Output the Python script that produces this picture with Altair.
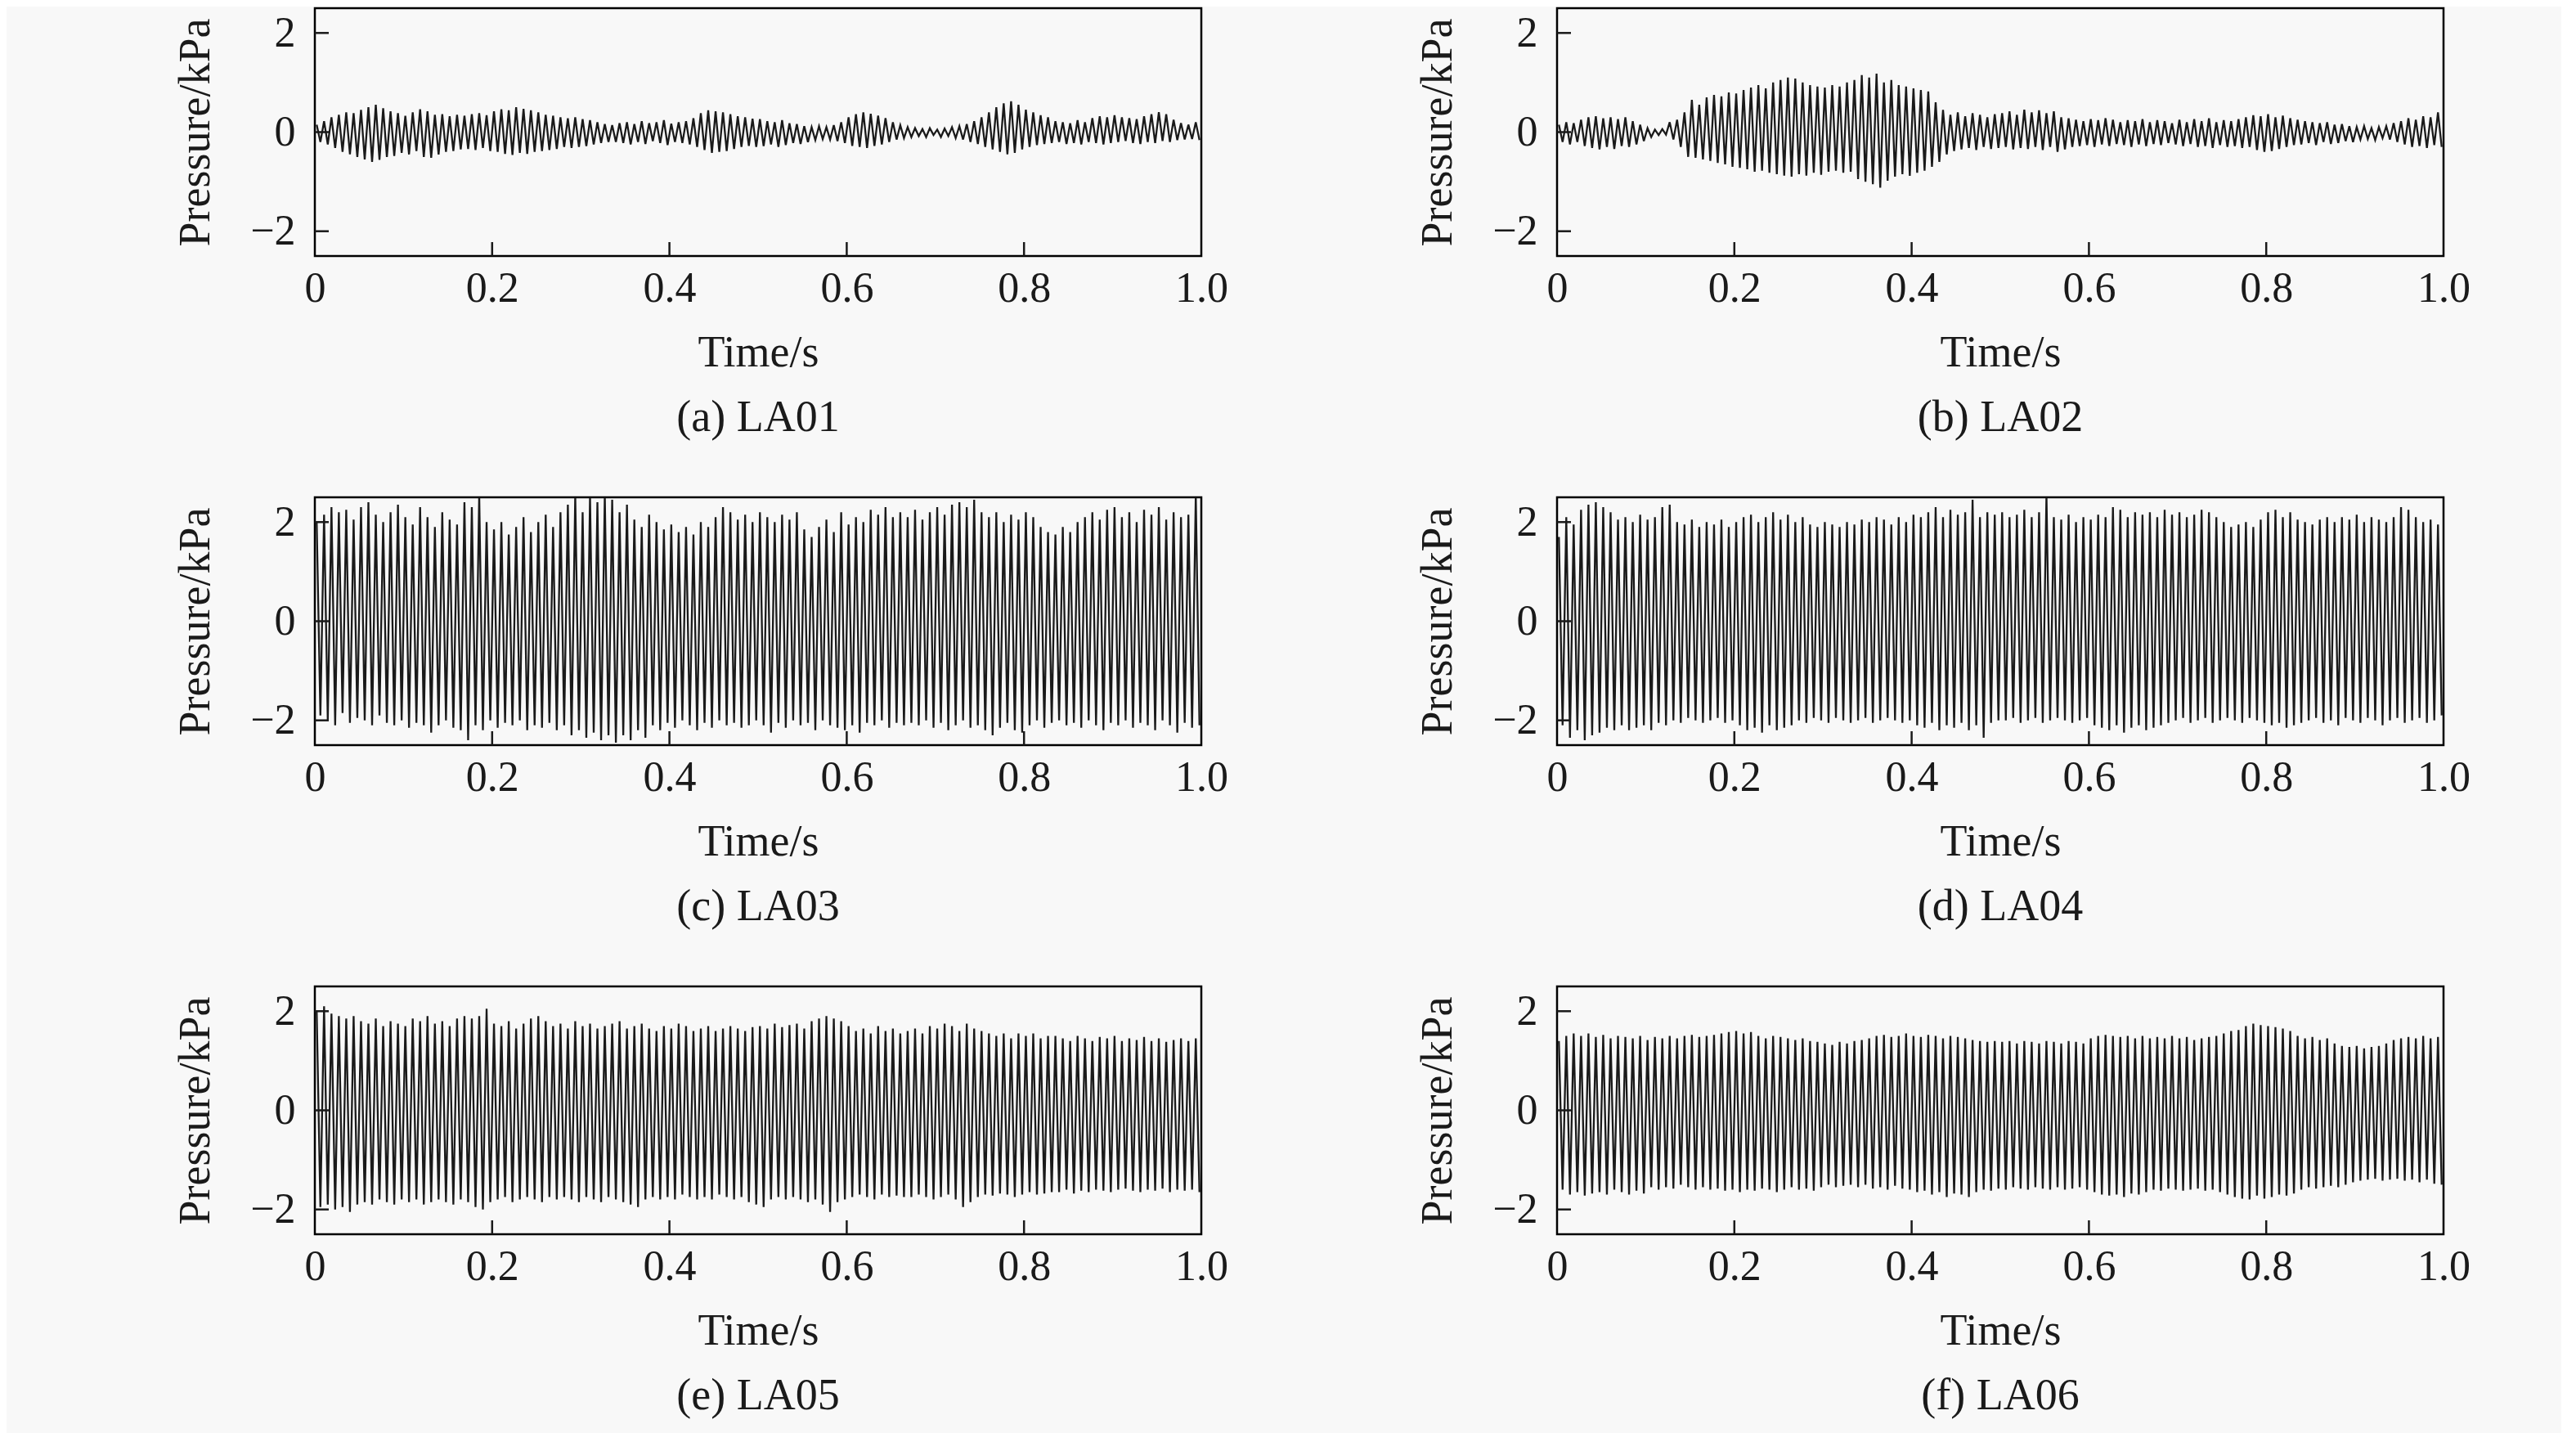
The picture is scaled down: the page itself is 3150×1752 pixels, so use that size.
import pandas as pd
import altair as alt

# pressure records, one value per half cycle (upper and lower peaks), 120 cycles in 1 s
time_ticks = [0, 0.2, 0.4, 0.6, 0.8, 1.0]
pressure_ticks = [-2, 0, 2]
captions = ["(a) LA01", "(b) LA02", "(c) LA03", "(d) LA04", "(e) LA05", "(f) LA06"]

la01_hi = [0.15, 0.22, 0.3, 0.35, 0.4, 0.38, 0.45, 0.5, 0.55, 0.48, 0.42, 0.38, 0.33, 0.4, 0.46, 0.42, 0.35, 0.36, 0.32, 0.35,
           0.33, 0.36, 0.38, 0.34, 0.42, 0.46, 0.44, 0.5, 0.47, 0.44, 0.4, 0.35, 0.33, 0.3, 0.28, 0.3, 0.26, 0.24, 0.2, 0.16,
           0.14, 0.18, 0.2, 0.16, 0.22, 0.18, 0.2, 0.24, 0.17, 0.2, 0.22, 0.28, 0.38, 0.44, 0.42, 0.4, 0.36, 0.32, 0.3, 0.27,
           0.26, 0.22, 0.2, 0.24, 0.18, 0.16, 0.12, 0.1, 0.12, 0.1, 0.14, 0.2, 0.3, 0.36, 0.4, 0.37, 0.33, 0.28, 0.2, 0.14,
           0.1, 0.08, 0.06, 0.08, 0.05, 0.07, 0.1, 0.12, 0.16, 0.22, 0.3, 0.4, 0.5, 0.58, 0.62, 0.55, 0.45, 0.4, 0.34, 0.3,
           0.22, 0.2, 0.18, 0.24, 0.2, 0.28, 0.32, 0.3, 0.34, 0.3, 0.28, 0.26, 0.32, 0.36, 0.4, 0.36, 0.25, 0.18, 0.15, 0.2]
la01_lo = [-0.2, -0.25, -0.32, -0.4, -0.45, -0.5, -0.55, -0.6, -0.56, -0.5, -0.48, -0.42, -0.45, -0.38, -0.5, -0.52, -0.45, -0.4, -0.38, -0.35,
           -0.34, -0.36, -0.32, -0.38, -0.4, -0.44, -0.46, -0.42, -0.44, -0.4, -0.38, -0.36, -0.34, -0.3, -0.32, -0.3, -0.28, -0.25, -0.22, -0.2,
           -0.2, -0.22, -0.25, -0.2, -0.24, -0.18, -0.22, -0.26, -0.2, -0.22, -0.25, -0.3, -0.36, -0.42, -0.4, -0.38, -0.34, -0.3, -0.28, -0.3,
           -0.28, -0.25, -0.3, -0.26, -0.22, -0.24, -0.2, -0.16, -0.14, -0.15, -0.18, -0.22, -0.28, -0.3, -0.32, -0.28, -0.25, -0.2, -0.15, -0.12,
           -0.1, -0.08, -0.1, -0.06, -0.1, -0.08, -0.12, -0.15, -0.2, -0.24, -0.3, -0.35, -0.4, -0.45, -0.42, -0.35, -0.3, -0.26, -0.24, -0.22,
           -0.2, -0.24, -0.22, -0.25, -0.2, -0.22, -0.25, -0.22, -0.2, -0.18, -0.22, -0.24, -0.2, -0.22, -0.18, -0.2, -0.16, -0.15, -0.14, -0.16]

la02_hi = [0.15, 0.2, 0.18, 0.25, 0.3, 0.32, 0.28, 0.3, 0.26, 0.3, 0.22, 0.15, 0.08, 0.05, 0.06, 0.2, 0.25, 0.4, 0.65, 0.55,
           0.7, 0.75, 0.72, 0.8, 0.78, 0.85, 0.9, 0.95, 0.88, 1.0, 1.05, 1.1, 1.08, 1.0, 0.95, 0.92, 0.9, 0.95, 0.92, 1.0,
           1.05, 1.15, 1.1, 1.18, 1.0, 1.05, 0.95, 0.92, 0.88, 0.85, 0.82, 0.6, 0.45, 0.35, 0.4, 0.32, 0.38, 0.35, 0.3, 0.36,
           0.38, 0.42, 0.35, 0.45, 0.4, 0.44, 0.38, 0.42, 0.3, 0.28, 0.25, 0.22, 0.26, 0.24, 0.28, 0.25, 0.2, 0.24, 0.22, 0.26,
           0.2, 0.24, 0.22, 0.18, 0.25, 0.2, 0.26, 0.22, 0.28, 0.2, 0.24, 0.22, 0.26, 0.3, 0.34, 0.32, 0.36, 0.3, 0.33, 0.28,
           0.25, 0.22, 0.2, 0.18, 0.2, 0.15, 0.16, 0.12, 0.1, 0.12, 0.08, 0.1, 0.12, 0.18, 0.22, 0.28, 0.25, 0.32, 0.3, 0.4]
la02_lo = [-0.2, -0.25, -0.2, -0.28, -0.32, -0.35, -0.3, -0.34, -0.28, -0.3, -0.25, -0.18, -0.1, -0.06, -0.05, -0.15, -0.3, -0.5, -0.52, -0.55,
           -0.58, -0.62, -0.65, -0.7, -0.72, -0.75, -0.8, -0.78, -0.82, -0.85, -0.88, -0.9, -0.85, -0.88, -0.82, -0.86, -0.8, -0.78, -0.82, -0.8,
           -0.95, -1.0, -1.05, -1.12, -0.98, -0.9, -0.85, -0.88, -0.82, -0.78, -0.7, -0.6, -0.45, -0.38, -0.35, -0.32, -0.36, -0.3, -0.34, -0.32,
           -0.3, -0.35, -0.32, -0.34, -0.3, -0.36, -0.3, -0.4, -0.35, -0.3, -0.28, -0.26, -0.3, -0.25, -0.28, -0.24, -0.26, -0.3, -0.25, -0.28,
           -0.24, -0.26, -0.22, -0.25, -0.28, -0.24, -0.3, -0.28, -0.32, -0.26, -0.3, -0.28, -0.32, -0.3, -0.36, -0.4, -0.38, -0.34, -0.3, -0.26,
           -0.25, -0.22, -0.26, -0.2, -0.24, -0.22, -0.18, -0.2, -0.15, -0.14, -0.16, -0.12, -0.15, -0.2, -0.25, -0.3, -0.28, -0.32, -0.26, -0.3]

la03_hi = [2.0, 2.15, 2.3, 2.2, 2.25, 2.05, 2.3, 2.4, 2.15, 2.0, 2.2, 2.35, 2.1, 1.95, 2.3, 2.1, 1.9, 2.2, 2.05, 1.95,
           2.4, 2.3, 2.55, 2.0, 1.85, 2.0, 1.75, 1.9, 2.1, 1.8, 2.0, 2.15, 1.9, 2.2, 2.35, 2.55, 2.2, 2.5, 2.4, 2.55,
           2.45, 2.2, 2.35, 2.05, 1.9, 2.15, 2.0, 1.85, 1.95, 1.8, 1.9, 1.75, 2.0, 1.9, 2.1, 2.3, 2.2, 2.05, 2.15, 2.0,
           2.2, 2.1, 2.0, 2.15, 2.05, 2.2, 1.85, 1.7, 1.9, 2.05, 1.8, 2.2, 1.95, 2.1, 2.0, 2.25, 2.15, 2.3, 2.1, 2.2,
           2.1, 2.25, 2.05, 2.2, 2.3, 2.15, 2.35, 2.4, 2.3, 2.45, 2.2, 2.1, 2.2, 2.0, 2.15, 2.05, 2.2, 2.1, 1.9, 1.8,
           1.75, 1.9, 1.8, 2.0, 2.1, 2.2, 2.05, 2.25, 2.3, 2.1, 2.2, 2.0, 2.25, 2.15, 2.3, 2.05, 2.2, 2.1, 2.15, 2.55]
la03_lo = [-1.9, -2.0, -2.1, -1.85, -2.05, -1.95, -2.0, -2.1, -1.9, -2.05, -2.1, -2.0, -2.15, -2.05, -2.1, -2.25, -2.1, -2.0, -2.15, -2.2,
           -2.4, -2.1, -2.2, -2.0, -2.15, -2.05, -2.1, -2.0, -2.2, -2.1, -2.15, -2.05, -2.2, -2.1, -2.3, -2.2, -2.35, -2.25, -2.4, -2.3,
           -2.45, -2.3, -2.4, -2.2, -2.35, -2.1, -2.2, -2.05, -2.15, -2.0, -2.1, -2.2, -2.05, -2.15, -2.0, -2.1, -2.05, -2.15, -2.1, -2.0,
           -2.1, -2.25, -2.05, -2.15, -2.0, -2.1, -2.05, -2.2, -2.0, -2.1, -2.15, -2.2, -2.1, -2.25, -2.05, -2.1, -2.0, -2.15, -2.05, -2.1,
           -2.05, -2.1, -2.0, -2.15, -2.05, -2.2, -2.1, -2.0, -2.15, -2.1, -2.2, -2.3, -2.15, -2.05, -2.2, -2.25, -2.1, -2.0, -2.15, -2.05,
           -2.0, -2.1, -2.05, -2.15, -2.0, -2.1, -2.2, -2.05, -2.1, -2.0, -2.15, -2.05, -2.1, -2.2, -2.0, -2.1, -2.25, -2.05, -2.15, -2.1]

la04_hi = [1.7, 2.1, 1.95, 2.25, 2.35, 2.4, 2.3, 2.2, 2.05, 2.1, 2.0, 2.15, 2.05, 2.1, 2.3, 2.35, 2.0, 1.95, 2.05, 1.9,
           2.0, 1.95, 2.05, 1.9, 2.0, 2.1, 2.15, 2.0, 2.1, 2.2, 2.05, 2.15, 2.0, 2.1, 1.95, 1.9, 2.0, 1.95, 1.9, 2.0,
           1.95, 2.05, 2.0, 2.1, 2.05, 1.95, 2.1, 2.0, 2.15, 2.1, 2.2, 2.3, 2.1, 2.25, 2.15, 2.2, 2.45, 2.1, 2.2, 2.15,
           2.2, 2.1, 2.15, 2.25, 2.1, 2.2, 2.55, 2.1, 2.05, 2.15, 2.0, 2.1, 2.05, 2.15, 2.1, 2.3, 2.25, 2.1, 2.2, 2.15,
           2.2, 2.1, 2.25, 2.15, 2.2, 2.1, 2.15, 2.25, 2.2, 2.1, 2.0, 1.9, 1.95, 2.0, 1.9, 2.05, 2.2, 2.25, 2.1, 2.2,
           2.05, 2.0, 1.95, 2.05, 2.1, 2.0, 2.1, 2.05, 2.15, 2.0, 2.1, 2.05, 2.0, 2.1, 2.3, 2.25, 2.1, 2.0, 2.05, 1.95]
la04_lo = [-2.1, -2.35, -2.2, -2.4, -2.3, -2.25, -2.15, -2.2, -2.1, -2.2, -2.15, -2.1, -2.2, -2.05, -2.1, -2.0, -2.05, -1.95, -2.0, -2.05,
           -2.0, -1.95, -2.05, -2.0, -2.1, -2.2, -2.15, -2.25, -2.1, -2.2, -2.15, -2.1, -2.0, -2.05, -1.95, -2.0, -2.05, -1.95, -2.0, -2.05,
           -2.0, -1.95, -2.05, -2.0, -1.95, -2.0, -2.05, -2.0, -2.1, -2.15, -2.05, -2.2, -2.1, -2.15, -2.05, -2.2, -2.1, -2.35, -2.05, -2.0,
           -2.0, -1.95, -2.05, -2.0, -1.95, -2.05, -2.0, -1.95, -2.0, -2.05, -2.0, -1.95, -2.1, -2.15, -2.2, -2.1, -2.25, -2.15, -2.1, -2.2,
           -2.15, -2.1, -2.05, -2.0, -1.95, -2.05, -2.0, -1.95, -2.05, -2.0, -1.95, -2.0, -2.05, -1.95, -2.0, -2.05, -2.1, -2.05, -2.15, -2.1,
           -2.05, -2.0, -1.95, -2.05, -2.0, -2.1, -1.95, -2.0, -2.05, -1.95, -2.0, -2.1, -2.0, -1.95, -2.05, -2.0, -1.95, -2.05, -2.0, -1.9]

la05_hi = [2.0, 2.1, 1.95, 1.9, 1.85, 1.9, 1.8, 1.75, 1.85, 1.7, 1.8, 1.75, 1.7, 1.85, 1.8, 1.9, 1.75, 1.8, 1.7, 1.85,
           1.9, 1.85, 1.9, 2.05, 1.75, 1.7, 1.8, 1.65, 1.75, 1.85, 1.9, 1.8, 1.7, 1.75, 1.65, 1.8, 1.7, 1.75, 1.65, 1.7,
           1.75, 1.8, 1.65, 1.7, 1.75, 1.65, 1.6, 1.7, 1.65, 1.75, 1.7, 1.6, 1.65, 1.7, 1.6, 1.65, 1.7, 1.65, 1.6, 1.68,
           1.7, 1.65, 1.75, 1.68, 1.72, 1.75, 1.65, 1.8, 1.85, 1.9, 1.85, 1.8, 1.7, 1.6, 1.65, 1.55, 1.7, 1.6, 1.65, 1.55,
           1.6, 1.65, 1.55, 1.7, 1.65, 1.75, 1.7, 1.6, 1.75, 1.65, 1.6, 1.55, 1.5, 1.55, 1.45, 1.55, 1.5, 1.55, 1.45, 1.5,
           1.5, 1.45, 1.4, 1.5, 1.45, 1.4, 1.48, 1.45, 1.5, 1.4, 1.45, 1.42, 1.48, 1.4, 1.45, 1.38, 1.42, 1.45, 1.4, 1.45]
la05_lo = [-1.95, -1.9, -2.0, -1.95, -2.05, -1.9, -1.85, -1.9, -1.8, -1.85, -1.9, -1.8, -1.85, -1.8, -1.9, -1.85, -1.8, -1.85, -1.9, -1.8,
           -1.85, -1.95, -2.0, -1.85, -1.8, -1.75, -1.85, -1.8, -1.75, -1.8, -1.85, -1.75, -1.8, -1.75, -1.8, -1.85, -1.75, -1.8, -1.85, -1.75,
           -1.8, -1.85, -1.9, -1.95, -1.8, -1.75, -1.8, -1.75, -1.8, -1.7, -1.75, -1.8, -1.75, -1.8, -1.7, -1.75, -1.8, -1.75, -1.85, -1.9,
           -1.95, -1.8, -1.75, -1.8, -1.75, -1.8, -1.85, -1.8, -1.9, -2.05, -1.85, -1.8, -1.75, -1.7, -1.75, -1.8, -1.7, -1.75, -1.72, -1.75,
           -1.75, -1.7, -1.75, -1.8, -1.75, -1.7, -1.8, -1.95, -1.85, -1.75, -1.7, -1.72, -1.68, -1.7, -1.75, -1.7, -1.65, -1.7, -1.68, -1.65,
           -1.65, -1.6, -1.68, -1.62, -1.65, -1.6, -1.62, -1.65, -1.6, -1.58, -1.62, -1.65, -1.6, -1.62, -1.58, -1.65, -1.6, -1.62, -1.6, -1.65]

la06_hi = [1.4, 1.5, 1.55, 1.5, 1.55, 1.48, 1.52, 1.45, 1.5, 1.48, 1.45, 1.5, 1.42, 1.48, 1.45, 1.5, 1.45, 1.5, 1.52, 1.48,
           1.5, 1.52, 1.55, 1.58, 1.6, 1.55, 1.58, 1.5, 1.45, 1.5, 1.48, 1.45, 1.42, 1.45, 1.4, 1.38, 1.35, 1.32, 1.38, 1.35,
           1.4, 1.42, 1.45, 1.5, 1.52, 1.48, 1.5, 1.55, 1.5, 1.48, 1.52, 1.5, 1.45, 1.5, 1.48, 1.45, 1.42, 1.4, 1.38, 1.4,
           1.38, 1.4, 1.35, 1.4, 1.38, 1.35, 1.4, 1.38, 1.35, 1.4, 1.38, 1.35, 1.45, 1.5, 1.52, 1.5, 1.48, 1.5, 1.45, 1.5,
           1.45, 1.48, 1.45, 1.5, 1.45, 1.48, 1.42, 1.45, 1.48, 1.5, 1.55, 1.6, 1.62, 1.7, 1.75, 1.72, 1.7, 1.68, 1.65, 1.6,
           1.5, 1.45, 1.48, 1.42, 1.45, 1.35, 1.3, 1.28, 1.3, 1.25, 1.28, 1.3, 1.35, 1.42, 1.45, 1.48, 1.45, 1.5, 1.45, 1.48]
la06_lo = [-1.6, -1.7, -1.65, -1.72, -1.68, -1.65, -1.7, -1.6, -1.65, -1.7, -1.62, -1.68, -1.55, -1.6, -1.55, -1.58, -1.5, -1.55, -1.6, -1.55,
           -1.6, -1.58, -1.62, -1.6, -1.65, -1.6, -1.62, -1.58, -1.6, -1.65, -1.6, -1.55, -1.6, -1.58, -1.62, -1.55, -1.5, -1.55, -1.52, -1.5,
           -1.55, -1.5, -1.58, -1.55, -1.6, -1.52, -1.58, -1.6, -1.65, -1.62, -1.7, -1.65, -1.75, -1.68, -1.7, -1.75, -1.65, -1.6, -1.62, -1.58,
           -1.6, -1.55, -1.58, -1.6, -1.55, -1.58, -1.6, -1.55, -1.6, -1.58, -1.55, -1.6, -1.65, -1.7, -1.72, -1.7, -1.75, -1.68, -1.7, -1.65,
           -1.6, -1.62, -1.58, -1.6, -1.62, -1.6, -1.58, -1.62, -1.6, -1.65, -1.7, -1.75, -1.78, -1.8, -1.72, -1.78, -1.75, -1.7, -1.72, -1.68,
           -1.6, -1.55, -1.58, -1.55, -1.52, -1.55, -1.5, -1.45, -1.42, -1.4, -1.38, -1.42, -1.4, -1.38, -1.42, -1.4, -1.45, -1.4, -1.48, -1.5]

PLOT_W = 1084
PLOT_H = 303
TICK_LEN = 17
FONT = "Liberation Serif"
INK = "#1a1a1a"


def peak_frame(hi, lo):
    # upper peak a quarter into each cycle, lower peak three quarters in
    n = len(hi)
    rows = []
    for i in range(n):
        rows.append({"t": (i + 0.25) / n, "p": hi[i]})
        rows.append({"t": (i + 0.75) / n, "p": lo[i]})
    return pd.DataFrame(rows)


def draw_panel(hi, lo, caption):
    x = alt.X("t:Q", scale=alt.Scale(domain=[0, 1], nice=False),
              axis=alt.Axis(values=time_ticks, title="Time/s", labelFlush=False,
                            labelExpr="datum.value == 0 ? '0' : format(datum.value, '.1f')",
                            labelPadding=14, titlePadding=26))
    y = alt.Y("p:Q", scale=alt.Scale(domain=[-2.5, 2.5], nice=False),
              axis=alt.Axis(values=pressure_ticks, title="Pressure/kPa", labelFlush=False,
                            labelPadding=24, titlePadding=39))

    signal = alt.Chart(peak_frame(hi, lo)).mark_line(
        color=INK, strokeWidth=2.3, clip=True
    ).encode(x=x, y=y)

    # ticks point into the frame
    x_marks = alt.Chart(pd.DataFrame({"t": time_ticks[1:-1]})).mark_rule(
        color=INK, strokeWidth=2.5
    ).encode(x=x, y=alt.value(PLOT_H), y2=alt.value(PLOT_H - TICK_LEN))
    y_marks = alt.Chart(pd.DataFrame({"p": pressure_ticks})).mark_rule(
        color=INK, strokeWidth=2.5
    ).encode(y=y, x=alt.value(0), x2=alt.value(TICK_LEN))

    return alt.layer(signal, x_marks, y_marks).properties(
        width=PLOT_W, height=PLOT_H,
        title=alt.TitleParams(caption, orient="bottom", offset=26)
    )


panels = [
    draw_panel(la01_hi, la01_lo, captions[0]),
    draw_panel(la02_hi, la02_lo, captions[1]),
    draw_panel(la03_hi, la03_lo, captions[2]),
    draw_panel(la04_hi, la04_lo, captions[3]),
    draw_panel(la05_hi, la05_lo, captions[4]),
    draw_panel(la06_hi, la06_lo, captions[5]),
]

rows = [alt.hconcat(panels[i], panels[i + 1], spacing=227) for i in (0, 2, 4)]

chart = alt.vconcat(*rows, spacing=66).properties(
    padding={"left": 203, "top": 0, "right": 110, "bottom": 30},
    background="#f8f8f8"
).configure_view(
    stroke="black", strokeWidth=2.5
).configure_axis(
    grid=False, domain=False, ticks=False, tickSize=0,
    labelFont=FONT, labelFontSize=52, labelColor=INK,
    titleFont=FONT, titleFontSize=54, titleFontWeight="normal", titleColor=INK
).configure_title(
    font=FONT, fontSize=54, fontWeight="normal", color=INK, anchor="middle"
)

chart.save("out.html", embed_options={"renderer": "svg", "actions": False})
